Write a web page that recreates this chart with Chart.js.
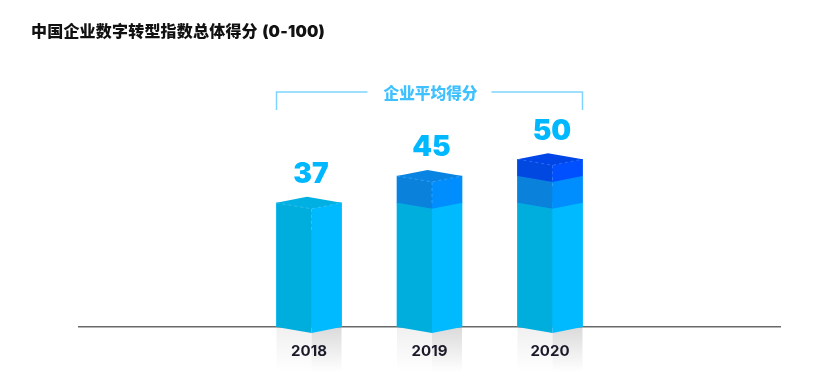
<!DOCTYPE html>
<html>
<head>
<meta charset="utf-8">
<style>
    html, body { margin: 0; padding: 0; background: #fff; }
    #wrap { position: relative; width: 814px; height: 385px; }
    #title {
        position: absolute; left: 31px; top: 18px; line-height: 22px;
        font: 900 16px "Inter", "Noto Sans CJK SC", sans-serif; color: #111; white-space: nowrap;
        word-spacing: 1px; letter-spacing: 0.2px;
    }
</style>
</head>
<body>
<div id="wrap">
    <div id="title">中国企业数字转型指数总体得分 (0-100)</div>
    <canvas id="chart" width="814" height="385"></canvas>
</div>
<script src="https://cdn.jsdelivr.net/npm/chart.js@4/dist/chart.umd.min.js"></script>
<script>
const years = [2018, 2019, 2020];
const totals = [37, 45, 50];
const baseScore = [37, 37, 37];
const midScore = [null, 8, 8];
const topScore = [null, null, 5];
const bracketLabel = "企业平均得分";

// left face, right face, top cap
const faceColors = [
    ["#00aede", "#00baff", "#00b0e2"],
    ["#0a82dc", "#008eff", "#0a84e2"],
    ["#0048e0", "#0050ff", "#0046e6"]
];

function toPoints(values) {
    return years.map((y, i) => ({ x: y, y: values[i] }));
}

function poly(ctx, pts, color) {
    ctx.fillStyle = color;
    ctx.beginPath();
    pts.forEach((p, i) => i ? ctx.lineTo(p[0], p[1]) : ctx.moveTo(p[0], p[1]));
    ctx.closePath();
    ctx.fill();
}

// grey fade under each bar
const reflection = {
    id: "reflection",
    beforeDraw(chart) {
        const ctx = chart.ctx;
        const bottom = chart.chartArea.bottom;
        chart.getDatasetMeta(0).data.forEach(el => {
            const x0 = el.x - el.width / 2, x1 = el.x + el.width / 2, xm = el.x + 2.5;
            const left = ctx.createLinearGradient(0, bottom, 0, bottom + 45);
            left.addColorStop(0, "#f0f0f0");
            left.addColorStop(1, "#ffffff");
            const right = ctx.createLinearGradient(0, bottom, 0, bottom + 45);
            right.addColorStop(0, "#dadada");
            right.addColorStop(1, "#ffffff");
            ctx.fillStyle = left;
            ctx.fillRect(x0, bottom, xm - x0, 45);
            ctx.fillStyle = right;
            ctx.fillRect(xm, bottom, x1 - xm, 45);
        });
    }
};

// turns the flat stacked bars into boxes
const boxFaces = {
    id: "boxFaces",
    afterDatasetsDraw(chart) {
        const ctx = chart.ctx;
        const yScale = chart.scales.y;
        const drop = 6;

        chart.data.datasets.forEach((ds, d) => {
            chart.getDatasetMeta(d).data.forEach((el, i) => {
                if (ds.data[i].y === null) return;
                const x0 = el.x - el.width / 2, x1 = el.x + el.width / 2, xm = el.x + 2.5;
                const yt = el.y, yb = el.base;
                poly(ctx, [[x0, yt], [xm, yt + drop], [xm, yb + drop], [x0, yb]], faceColors[d][0]);
                poly(ctx, [[xm, yt + drop], [x1, yt], [x1, yb], [xm, yb + drop]], faceColors[d][1]);
            });
        });

        ctx.textAlign = "center";
        ctx.textBaseline = "middle";
        years.forEach((y, i) => {
            const el = chart.getDatasetMeta(0).data[i];
            const x0 = el.x - el.width / 2, x1 = el.x + el.width / 2, xm = el.x + 2.5;
            const yt = yScale.getPixelForValue(totals[i]);
            // top cap
            poly(ctx, [[x0, yt], [el.x - 2, yt - drop], [x1, yt], [xm, yt + drop]], faceColors[i][2]);
            // faint dashed edges
            ctx.save();
            ctx.strokeStyle = "rgba(255,255,255,0.18)";
            ctx.lineWidth = 1;
            ctx.setLineDash([3, 3]);
            ctx.beginPath();
            ctx.moveTo(x0, yt);
            ctx.lineTo(xm, yt + drop);
            ctx.lineTo(x1, yt);
            ctx.moveTo(xm, yt + drop);
            ctx.lineTo(xm, yt + 30);
            ctx.stroke();
            ctx.restore();
            // score
            ctx.fillStyle = "#00b8ff";
            ctx.font = '900 28px "Inter", sans-serif';
            ctx.fillText(String(totals[i]), el.x + 2, yt - 28);
        });

        // bracket over the bars
        const first = chart.getDatasetMeta(0).data[0];
        const last = chart.getDatasetMeta(0).data[years.length - 1];
        const bx0 = first.x - first.width / 2, bx1 = last.x + last.width / 2;
        const mid = (bx0 + bx1) / 2;
        ctx.strokeStyle = "#7fd4ff";
        ctx.lineWidth = 1.5;
        ctx.beginPath();
        ctx.moveTo(bx0, 110);
        ctx.lineTo(bx0, 92);
        ctx.lineTo(mid - 62, 92);
        ctx.moveTo(mid + 62, 92);
        ctx.lineTo(bx1, 92);
        ctx.lineTo(bx1, 110);
        ctx.stroke();
        ctx.fillStyle = "#3fc0ff";
        ctx.font = '900 15.7px "Noto Sans CJK SC", sans-serif';
        ctx.fillText(bracketLabel, mid + 1, 93);
    }
};

new Chart(document.getElementById("chart"), {
    type: "bar",
    data: {
        datasets: [
            { label: "2018", data: toPoints(baseScore), backgroundColor: faceColors[0][1] },
            { label: "2019", data: toPoints(midScore), backgroundColor: faceColors[1][1] },
            { label: "2020", data: toPoints(topScore), backgroundColor: faceColors[2][1] }
        ]
    },
    options: {
        responsive: false,
        animation: false,
        barThickness: 65,
        layout: { padding: { left: 79, right: 34, top: 25, bottom: 0 } },
        plugins: { legend: { display: false }, tooltip: { enabled: false } },
        scales: {
            x: {
                type: "linear",
                offset: false,
                stacked: true,
                min: 2016.091,
                max: 2021.909,
                grid: { display: false, drawTicks: false },
                border: { color: "#6a6a6a", width: 1.5 },
                afterBuildTicks(scale) { scale.ticks = years.map(v => ({ value: v })); },
                afterFit(scale) { scale.height = 58; },
                ticks: {
                    autoSkip: false,
                    maxRotation: 0,
                    padding: 15,
                    color: "#1a1a2a",
                    font: { family: "Inter", size: 15, weight: "700" },
                    callback: v => String(v)
                }
            },
            y: { display: false, stacked: true, min: 0, max: 90 }
        }
    },
    plugins: [reflection, boxFaces]
});
</script>
</body>
</html>
